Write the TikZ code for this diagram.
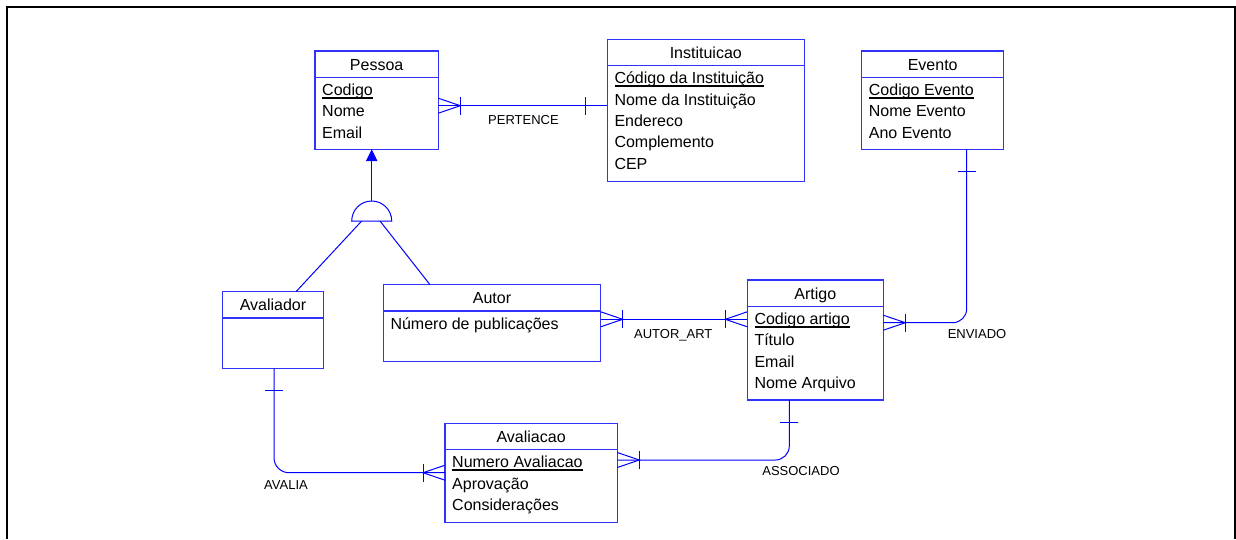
\documentclass[tikz,border=0pt]{standalone}
\usepackage{fontspec}
\setmainfont{Liberation Sans}
\usetikzlibrary{arrows.meta,calc}
\definecolor{erline}{RGB}{0,0,255}
\definecolor{erbox}{RGB}{50,50,255}
% key attribute: text with a heavy rule under it
\newcommand\keyattr[1]{\setbox0\hbox{#1}\rlap{\rule[-3.3pt]{\wd0}{1.9pt}}#1}
\begin{document}
\begin{tikzpicture}[x=1pt,y=-1pt,
  conn/.style={draw=erline, line width=1pt},
  entity/.style={draw=erbox, line width=1.3pt, anchor=north west, inner sep=0pt, outer sep=0pt},
  etitle/.style={font=\fontsize{16}{19}\selectfont, text height=11.5pt, text depth=0pt, inner sep=0pt},
  eattr/.style={font=\fontsize{16}{19}\selectfont, anchor=west, text height=11.5pt, text depth=0pt, inner sep=0pt},
  rel/.style={font=\fontsize{13}{15}\selectfont, text height=9.3pt, text depth=0pt, inner sep=0pt},
  many/.pic={\draw[conn] (0,-7.5) -- (22,0) -- (0,7.5); \draw[conn] (22,-9) -- (22,9);},
  one/.pic={\draw[conn] (22,-9) -- (22,9);}
]
\useasboundingbox (0,0) rectangle (1236,539);

% open frame around the model
\draw[line width=2pt] (6.5,539) -- (6.5,6.5) -- (1234.5,6.5) -- (1234.5,539);

% entity box: name, top-left corner, width, height, title, attribute list
\newcommand\erentity[6]{%
  \node[entity, minimum width=#3, minimum height=#4] (#1) at #2 {};
  \draw[draw=erbox, line width=1.3pt] ([yshift=-26.3pt]#1.north west) -- ([yshift=-26.3pt]#1.north east);
  \node[etitle] (#1-t) at ([yshift=-13.3pt]#1.north) {#5};
  \foreach \a [count=\i] in {#6} {
    \node[eattr] (#1-\i) at ([xshift=7pt,yshift={-38.6pt-21.4pt*(\i-1)}]#1.north west) {\a};
  }%
}

\erentity{pessoa}{(315,51)}{123.3pt}{98.3pt}{Pessoa}{\keyattr{Codigo},Nome,Email}
\erentity{inst}{(607.3,39.3)}{197pt}{142.4pt}{Instituicao}{\keyattr{Código da Instituição},Nome da Instituição,Endereco,Complemento,CEP}
\erentity{evento}{(861.7,51)}{142pt}{98.3pt}{Evento}{\keyattr{Codigo Evento},Nome Evento,Ano Evento}
\erentity{autor}{(383.3,284.7)}{217.4pt}{77pt}{Autor}{Número de publicações}
\erentity{artigo}{(747.3,280)}{136pt}{120pt}{Artigo}{\keyattr{Codigo artigo},Título,Email,Nome Arquivo}
\erentity{avaliacao}{(445,423.3)}{172.3pt}{99pt}{Avaliacao}{\keyattr{Numero Avaliacao},Aprovação,Considerações}

% Avaliador has no attributes
\node[entity, minimum width=100.6pt, minimum height=76.6pt] (avaliador) at (222.7,291.7) {};
\draw[draw=erbox, line width=1.3pt] ([yshift=-26.3pt]avaliador.north west) -- ([yshift=-26.3pt]avaliador.north east);
\node[etitle] (avaliador-t) at ([yshift=-13.3pt]avaliador.north) {Avaliador};

% generalization of Pessoa into Avaliador and Autor
\coordinate (gen) at (371.7,221);
\draw[conn] ([xshift=-20pt]gen) arc[start angle=180, end angle=0, radius=20pt] -- cycle;
\draw[conn, -{Triangle[length=11.7pt,width=11.3pt]}] ([yshift=20pt]gen) -- (pessoa.south -| gen);
\draw[conn] ([xshift=-10pt]gen) -- ([xshift=23pt]avaliador.north);
\draw[conn] ([xshift=8.3pt]gen) -- ([xshift=-62pt]autor.north);

% PERTENCE
\coordinate (pertY) at (0,105.7);
\draw[conn] (pessoa.east |- pertY) -- (inst.west |- pertY);
\pic at (pessoa.east |- pertY) {many};
\pic[rotate=180] at (inst.west |- pertY) {one};
\node[rel] (pertence) at (523.5,120) {PERTENCE};

% AUTOR_ART
\coordinate (aaY) at (0,319.3);
\draw[conn] (autor.east |- aaY) -- (artigo.west |- aaY);
\pic at (autor.east |- aaY) {many};
\pic[rotate=180] at (artigo.west |- aaY) {many};
\node[rel] (autorart) at (673.3,334.3) {AUTOR\_ART};

% ENVIADO
\coordinate (envX) at (966.7,0);
\coordinate (envY) at (0,322.7);
\draw[conn, rounded corners=14pt] (evento.south -| envX) |- (artigo.east |- envY);
\pic[rotate=-90] at (evento.south -| envX) {one};
\pic at (artigo.east |- envY) {many};
\node[rel] (enviado) at (977,334) {ENVIADO};

% ASSOCIADO
\coordinate (asX) at (789.3,0);
\coordinate (asY) at (0,460);
\draw[conn, rounded corners=14pt] (artigo.south -| asX) |- (avaliacao.east |- asY);
\pic[rotate=-90] at (artigo.south -| asX) {one};
\pic at (avaliacao.east |- asY) {many};
\node[rel] (associado) at (801,471) {ASSOCIADO};

% AVALIA
\coordinate (avX) at (274,0);
\coordinate (avY) at (0,472.7);
\draw[conn, rounded corners=15pt] (avaliador.south -| avX) |- (avaliacao.west |- avY);
\pic[rotate=-90] at (avaliador.south -| avX) {one};
\pic[rotate=180] at (avaliacao.west |- avY) {many};
\node[rel] (avalia) at (286,485) {AVALIA};
\end{tikzpicture}
\end{document}
